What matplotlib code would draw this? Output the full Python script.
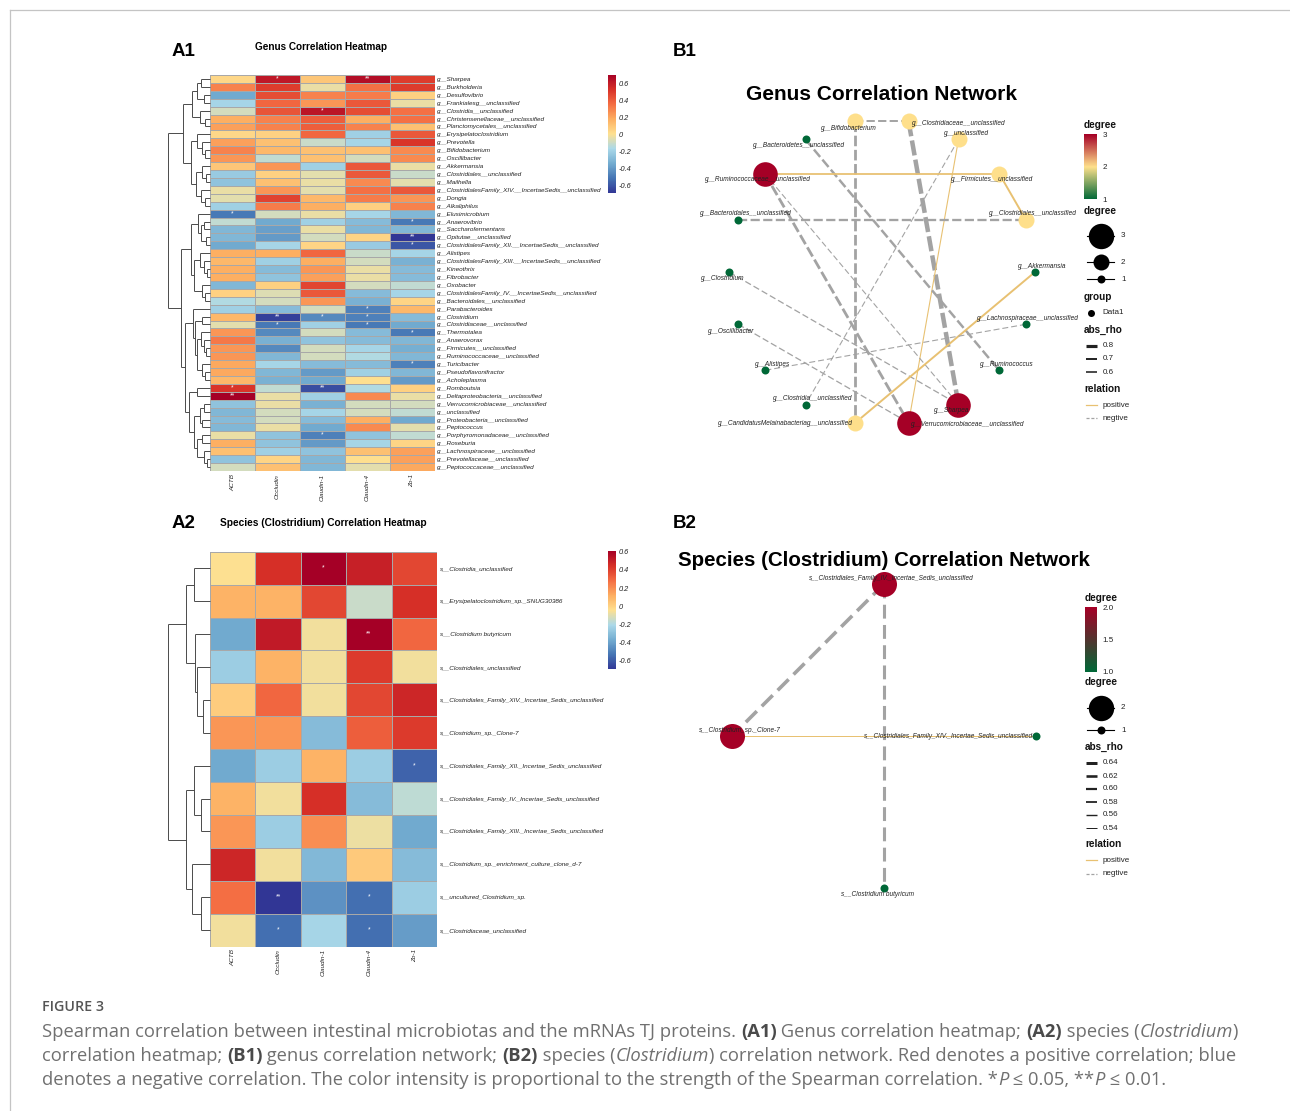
import numpy as np
import matplotlib
matplotlib.use("Agg")
import matplotlib.pyplot as plt
import matplotlib.cm as cm
from matplotlib.colors import LinearSegmentedColormap, Normalize

plt.rcParams['font.family'] = ['Liberation Sans', 'DejaVu Sans']
plt.rcParams['lines.scale_dashes'] = False

# ---------------------------------------------------------------- data
genes = ["ACTB", "Occludin", "Claudin-1", "Claudin-4", "Zo-1"]

genus_rows = [
    "g__Sharpea", "g__Burkholderia", "g__Desulfovibrio", "g__Frankialesg__unclassified",
    "g__Clostridia__unclassified", "g__Christensenellaceae__unclassified",
    "g__Planctomycetales__unclassified", "g__Erysipelatoclostridium", "g__Prevotella",
    "g__Bifidobacterium", "g__Oscillibacter", "g__Akkermansia", "g__Clostridiales__unclassified",
    "g__Mailhella", "g__ClostridialesFamily_XIV.__IncertaeSedis__unclassified", "g__Dongia",
    "g__Alkaliphilus", "g__Elusimicrobium", "g__Anaerovibrio", "g__Saccharofermentans",
    "g__Opitutae__unclassified", "g__ClostridialesFamily_XII.__IncertaeSedis__unclassified",
    "g__Alistipes", "g__ClostridialesFamily_XIII.__IncertaeSedis__unclassified", "g__Kineothrix",
    "g__Fibrobacter", "g__Oxobacter", "g__ClostridialesFamily_IV.__IncertaeSedis__unclassified",
    "g__Bacteroidales__unclassified", "g__Parabacteroides", "g__Clostridium",
    "g__Clostridiaceae__unclassified", "g__Thermotalea", "g__Anaerovorax",
    "g__Firmicutes__unclassified", "g__Ruminococcaceae__unclassified", "g__Turicibacter",
    "g__Pseudoflavonifractor", "g__Acholeplasma", "g__Romboutsia",
    "g__Deltaproteobacteria__unclassified", "g__Verrucomicrobiaceae__unclassified",
    "g__unclassified", "g__Proteobacteria__unclassified", "g__Peptococcus",
    "g__Porphyromonadaceae__unclassified", "g__Roseburia", "g__Lachnospiraceae__unclassified",
    "g__Prevotellaceae__unclassified", "g__Peptococcaceae__unclassified"]

genus_actb = [0.04, 0.30, -0.35, -0.18, -0.08, 0.18, 0.22, 0.04, 0.22, 0.30,
              0.25, 0.10, -0.22, -0.25, -0.03, -0.05, -0.20, -0.50, -0.12, -0.30,
              -0.30, -0.35, 0.18, 0.15, 0.18, 0.18, -0.30, 0.06, -0.15, -0.20,
              0.15, -0.05, 0.25, 0.33, 0.25, 0.25, 0.20, 0.20, 0.15, 0.52,
              0.71, -0.25, -0.30, -0.28, -0.30, -0.03, 0.18, 0.12, -0.25, -0.08]
genus_occludin = [0.62, 0.50, 0.45, 0.38, 0.43, 0.30, 0.30, 0.06, 0.12, 0.15,
                  -0.12, 0.25, 0.07, 0.12, 0.25, 0.48, 0.32, -0.08, -0.35, -0.38,
                  -0.40, -0.18, 0.18, -0.20, -0.28, -0.25, 0.07, -0.06, -0.08, -0.28,
                  -0.66, -0.50, -0.45, -0.32, -0.45, -0.30, -0.18, -0.30, -0.32, -0.12,
                  -0.03, -0.03, -0.08, -0.08, -0.03, -0.25, -0.25, -0.20, 0.05, 0.12]
genus_claudin1 = [0.10, -0.03, 0.30, 0.25, 0.63, 0.40, 0.40, 0.38, -0.10, 0.12,
                  0.12, -0.20, -0.05, -0.03, -0.05, 0.15, 0.18, -0.03, -0.20, -0.03,
                  -0.08, 0.05, 0.38, 0.18, 0.25, 0.22, 0.47, 0.42, 0.25, -0.08,
                  -0.45, -0.20, -0.08, -0.25, -0.08, -0.08, -0.28, -0.40, -0.35, -0.62,
                  -0.20, -0.32, -0.18, -0.28, -0.35, -0.48, -0.40, -0.25, -0.30, -0.30]
genus_claudin4 = [0.66, 0.35, 0.32, 0.42, 0.45, 0.18, 0.30, -0.20, -0.18, 0.12,
                  -0.08, 0.42, 0.42, 0.28, 0.35, 0.32, 0.07, -0.18, -0.28, -0.30,
                  0.05, -0.22, -0.10, -0.08, -0.03, -0.03, -0.08, -0.28, -0.32, -0.48,
                  -0.48, -0.50, -0.28, -0.28, -0.18, -0.15, -0.28, -0.20, 0.01, -0.15,
                  0.28, -0.08, -0.08, 0.18, 0.28, -0.25, -0.18, 0.12, 0.01, -0.05]
genus_zo1 = [0.50, 0.50, 0.07, -0.03, 0.35, 0.35, 0.12, 0.42, 0.52, 0.28,
             0.28, -0.03, -0.10, -0.05, 0.42, 0.25, 0.30, -0.30, -0.50, -0.30,
             -0.69, -0.60, -0.18, -0.32, -0.28, -0.28, -0.12, -0.18, 0.05, 0.15,
             -0.28, -0.35, -0.50, -0.30, -0.33, -0.30, -0.48, -0.30, -0.40, 0.07,
             -0.03, -0.08, -0.12, -0.35, -0.05, -0.12, 0.05, 0.22, 0.22, 0.20]
# (row, gene, mark)
genus_sig = [(0, 1, "*"), (0, 3, "**"), (4, 2, "*"), (17, 0, "*"), (18, 4, "*"),
             (20, 4, "**"), (21, 4, "*"), (29, 3, "*"), (30, 1, "**"), (30, 2, "*"),
             (30, 3, "*"), (31, 1, "*"), (31, 3, "*"), (32, 4, "*"), (36, 4, "*"),
             (39, 0, "*"), (39, 2, "**"), (40, 0, "**"), (45, 2, "*")]
# row dendrogram (height, left, right); leaves = 1-based row numbers
genus_tree = (1.0,
    (0.64,
        (0.43, (0.31, (0.21, 1, 2), (0.14, 3, 4)), (0.24, 5, (0.12, 6, 7))),
        (0.46, (0.30, 8, (0.20, 9, (0.12, 10, 11))),
               (0.33, (0.20, 12, (0.10, 13, 14)), (0.22, 15, (0.12, 16, 17))))),
    (0.70,
        (0.46, (0.28, 18, (0.22, (0.14, 19, 20), (0.10, 21, 22))),
               (0.38, (0.25, 23, (0.15, 24, (0.08, 25, 26))), (0.20, 27, (0.12, 28, 29)))),
        (0.60,
            (0.40, 30, (0.36, (0.20, 31, 32),
                        (0.30, (0.22, 33, (0.15, 34, (0.10, 35, 36))), (0.20, 37, (0.12, 38, 39))))),
            (0.50, (0.30, 40, 41),
                   (0.38, (0.25, (0.15, 42, 43), (0.18, 44, 45)),
                          (0.30, (0.20, 46, 47), (0.15, 48, (0.08, 49, 50))))))))

species_rows = [
    "s__Clostridia_unclassified", "s__Erysipelatoclostridium_sp._SNUG30386",
    "s__Clostridium butyricum", "s__Clostridiales_unclassified",
    "s__Clostridiales_Family_XIV._Incertae_Sedis_unclassified", "s__Clostridium_sp._Clone-7",
    "s__Clostridiales_Family_XII._Incertae_Sedis_unclassified",
    "s__Clostridiales_Family_IV._Incertae_Sedis_unclassified",
    "s__Clostridiales_Family_XIII._Incertae_Sedis_unclassified",
    "s__Clostridium_sp._enrichment_culture_clone_d-7", "s__uncultured_Clostridium_sp.",
    "s__Clostridiaceae_unclassified"]
species_actb = [-0.05, 0.10, -0.38, -0.25, 0.02, 0.18, -0.38, 0.10, 0.18, 0.48, 0.28, -0.07]
species_occludin = [0.45, 0.10, 0.52, 0.10, 0.30, 0.18, -0.25, -0.07, -0.25, -0.07, -0.70, -0.55]
species_claudin1 = [0.61, 0.38, -0.07, -0.07, -0.07, -0.32, 0.10, 0.45, 0.20, -0.33, -0.45, -0.22]
species_claudin4 = [0.50, -0.15, 0.61, 0.42, 0.38, 0.32, -0.25, -0.32, -0.08, 0.03, -0.55, -0.55]
species_zo1 = [0.38, 0.45, 0.30, -0.07, 0.48, 0.42, -0.58, -0.17, -0.38, -0.32, -0.25, -0.42]
species_sig = [(0, 2, "*"), (2, 3, "**"), (6, 4, "*"), (10, 1, "**"), (10, 3, "*"),
               (11, 1, "*"), (11, 3, "*")]
species_tree = (1.0,
    (0.56, (0.376, 1, 2), (0.36, 3, (0.30, 4, (0.16, 5, 6)))),
    (0.56, (0.376, 7, (0.224, 8, 9)), (0.44, 10, (0.224, 11, 12))))

# networks: nodes in circular-layout order, edges (source, target, rho)
genus_nodes = ["g__Akkermansia", "g__Clostridiales__unclassified", "g__Firmicutes__unclassified",
               "g__unclassified", "g__Clostridiaceae__unclassified", "g__Bifidobacterium",
               "g__Bacteroidetes__unclassified", "g__Ruminococcaceae__unclassified",
               "g__Bacteroidales__unclassified", "g__Clostridium", "g__Oscillibacter",
               "g__Alistipes", "g__Clostridia__unclassified",
               "g__CandidatusMelainabacteriag__unclassified",
               "g__Verrucomicrobiaceae__unclassified", "g__Sharpea", "g__Ruminococcus",
               "g__Lachnospiraceae__unclassified"]
genus_edges = [
    ("g__Bifidobacterium", "g__Clostridiaceae__unclassified", -0.65),
    ("g__Bifidobacterium", "g__CandidatusMelainabacteriag__unclassified", -0.70),
    ("g__Clostridiaceae__unclassified", "g__Sharpea", -0.80),
    ("g__unclassified", "g__Verrucomicrobiaceae__unclassified", 0.60),
    ("g__unclassified", "g__Clostridia__unclassified", -0.60),
    ("g__Bacteroidetes__unclassified", "g__Ruminococcus", -0.68),
    ("g__Ruminococcaceae__unclassified", "g__Firmicutes__unclassified", 0.64),
    ("g__Firmicutes__unclassified", "g__Clostridiales__unclassified", 0.65),
    ("g__Bacteroidales__unclassified", "g__Clostridiales__unclassified", -0.67),
    ("g__Ruminococcaceae__unclassified", "g__Verrucomicrobiaceae__unclassified", -0.70),
    ("g__Ruminococcaceae__unclassified", "g__Sharpea", -0.60),
    ("g__Clostridium", "g__Sharpea", -0.61),
    ("g__Oscillibacter", "g__Verrucomicrobiaceae__unclassified", -0.61),
    ("g__Akkermansia", "g__CandidatusMelainabacteriag__unclassified", 0.65),
    ("g__Lachnospiraceae__unclassified", "g__Alistipes", -0.60),
]
species_nodes = ["s__Clostridiales_Family_XIV._Incertae_Sedis_unclassified",
                 "s__Clostridiales_Family_IV._Incertae_Sedis_unclassified",
                 "s__Clostridium_sp._Clone-7", "s__Clostridium butyricum"]
species_edges = [
    ("s__Clostridiales_Family_IV._Incertae_Sedis_unclassified", "s__Clostridium_sp._Clone-7", -0.64),
    ("s__Clostridiales_Family_IV._Incertae_Sedis_unclassified", "s__Clostridium butyricum", -0.62),
    ("s__Clostridium_sp._Clone-7", "s__Clostridiales_Family_XIV._Incertae_Sedis_unclassified", 0.54),
]

# ---------------------------------------------------------------- layout / style
W, H = 1290, 1111
fig = plt.figure(figsize=(W / 100, H / 100), dpi=100)
fig.patch.set_facecolor("white")
PT = 0.72  # points per pixel

def box(x0, y0, x1, y1):
    ax = fig.add_axes([x0 / W, 1 - y1 / H, (x1 - x0) / W, (y1 - y0) / H])
    ax.patch.set_visible(False)
    return ax

over = box(0, 0, W, H)
over.set_xlim(0, W)
over.set_ylim(H, 0)
over.axis("off")

hm_cmap = LinearSegmentedColormap.from_list("hm", ["#313695", "#4575B4", "#74ADD1", "#ABD9E9",
                                                   "#FEE090", "#FDAE61", "#F46D43", "#D73027",
                                                   "#A50026"])
POS = "#E8C172"
NEG = "#A3A3A3"


def draw_tree(ax, node):
    if isinstance(node, int):
        return node - 0.5, 0.0
    h, a, b = node
    ya, ha = draw_tree(ax, a)
    yb, hb = draw_tree(ax, b)
    kw = dict(color="#4a4a4a", lw=0.7, clip_on=False, solid_capstyle="butt")
    ax.plot([h, h], [ya, yb], **kw)
    ax.plot([ha, h], [ya, ya], **kw)
    ax.plot([hb, h], [yb, yb], **kw)
    return (ya + yb) / 2, h


def heatmap(bx, dbx, cbx, cols, rows, sig, tree):
    M = np.array(cols).T
    n, m = M.shape
    norm = Normalize(M.min(), M.max())
    ax = box(*bx)
    ax.pcolormesh(np.arange(m + 1), np.arange(n + 1), M, cmap=hm_cmap, norm=norm,
                  edgecolors="#a8a8a8", linewidth=0.5)
    ax.set_xlim(0, m)
    ax.set_ylim(n, 0)
    ax.yaxis.tick_right()
    ax.set_yticks(np.arange(n) + 0.5, rows, fontsize=4.6, style="italic", color="#222222")
    ax.set_xticks(np.arange(m) + 0.5, genes, rotation=90, fontsize=4.6, style="italic",
                  color="#222222")
    ax.tick_params(length=0, pad=2)
    for s in ax.spines.values():
        s.set_visible(False)
    for r, c, s in sig:
        ax.text(c + 0.5, r + 0.5, s, ha="center", va="center", color="white", fontsize=4.8)
    dax = box(*dbx)
    dax.set_xlim(1.0, 0.0)
    dax.set_ylim(n, 0)
    dax.axis("off")
    draw_tree(dax, tree)
    cax = box(*cbx)
    cb = fig.colorbar(cm.ScalarMappable(norm=norm, cmap=hm_cmap), cax=cax)
    cb.outline.set_visible(False)
    ticks = [-0.6, -0.4, -0.2, 0.0, 0.2, 0.4, 0.6]
    cb.set_ticks(ticks, labels=[f"{t:g}" for t in ticks])
    cax.tick_params(length=0, pad=2, labelsize=5.3)
    for t in cax.get_yticklabels():
        t.set_style("italic")
        t.set_color("#222222")


heatmap((210, 75, 434.5, 471), (168, 75, 210, 471), (608, 74.5, 616, 193),
        [genus_actb, genus_occludin, genus_claudin1, genus_claudin4, genus_zo1],
        genus_rows, genus_sig, genus_tree)
heatmap((210, 551.7, 437, 946.7), (168, 551.7, 210, 946.7), (608, 551, 616, 669.5),
        [species_actb, species_occludin, species_claudin1, species_claudin4, species_zo1],
        species_rows, species_sig, species_tree)


def network(cx, cy, r, nodes, edges, cmap, rad_by_deg, offsets, lw_of, dash_of):
    ax = box(cx - r - 60, cy - r - 30, cx + r + 60, cy + r + 30)
    ax.set_xlim(-(r + 60) / r, (r + 60) / r)
    ax.set_ylim(-(r + 30) / r, (r + 30) / r)
    ax.axis("off")
    n = len(nodes)
    ang = 2 * np.pi * np.arange(n) / n
    pos = {nm: (np.cos(a), np.sin(a)) for nm, a in zip(nodes, ang)}
    deg = {nm: 0 for nm in nodes}
    for s, t, rho in edges:
        deg[s] += 1
        deg[t] += 1
    dmin, dmax = min(deg.values()), max(deg.values())
    dnorm = Normalize(dmin, dmax)
    for s, t, rho in edges:
        (x1, y1), (x2, y2) = pos[s], pos[t]
        lw = lw_of(abs(rho))
        if rho > 0:
            ax.plot([x1, x2], [y1, y2], color=POS, lw=lw * PT, solid_capstyle="butt", zorder=2)
        else:
            on, off = dash_of(lw)
            ax.plot([x1, x2], [y1, y2], color=NEG, lw=lw * PT, dashes=(on * PT, off * PT),
                    dash_capstyle="butt", zorder=2)
    for nm, (dx, dy) in zip(nodes, offsets):
        x, y = pos[nm]
        rad = rad_by_deg[deg[nm]]
        ax.scatter([x], [y], s=(2 * rad * PT) ** 2, color=cmap(dnorm(deg[nm])), linewidths=0,
                   zorder=3)
        ax.annotate(nm, (x, y), xytext=(dx * PT, -dy * PT), textcoords="offset points",
                    ha="center", va="center", fontsize=4.7, style="italic", color="#222222",
                    zorder=4)
    return dnorm


deg_cmap_g = LinearSegmentedColormap.from_list("dg", ["#006837", "#FEE08B", "#A50026"])
deg_cmap_s = LinearSegmentedColormap.from_list("ds", ["#006837", "#A50026"])

genus_offsets = [(7.4, -5.4), (7.3, -5.7), (-6.6, 6), (8, -6.3), (50.7, 2.3), (-6.7, 6.7),
                 (-6.7, 6), (-6.6, 6), (7.3, -5.7), (-6.7, 6.6), (-6.7, 6.7), (7.4, -5.4),
                 (7, -5.6), (-70.4, 0.7), (59, 2.3), (-6.7, 6.4), (7.4, -5.4), (1.7, -5.7)]
species_offsets = [(-87, 0), (7.7, -5), (7.7, -5.6), (-6.7, 6.3)]

lw_g = lambda a: 1.1 + (a - 0.6) / 0.2 * 3.4
lw_s = lambda a: 1.0 + (a - 0.54) / 0.1 * 2.6
dash_g = lambda lw: (3 + 2.7 * lw, 2.5 + 0.4 * lw)
dash_s = lambda lw: (4 + 3.2 * lw, 3.0 + 1.1 * lw)

dn_g = network(882, 272, 153, genus_nodes, genus_edges, deg_cmap_g, {1: 4, 2: 8, 3: 12.3},
               genus_offsets, lw_g, dash_g)
dn_s = network(884, 736, 152, species_nodes, species_edges, deg_cmap_s, {1: 4, 2: 12.5},
               species_offsets, lw_s, dash_s)

# ---------------------------------------------------------------- legends
def ltitle(x, y, s):
    over.text(x, y, s, fontsize=7.2, weight="bold", ha="left", va="center", color="#111111")

def llabel(x, y, s, ha="left"):
    over.text(x, y, s, fontsize=5.8, ha=ha, va="center", color="#222222")

def deg_bar(x0, y0, x1, y1, norm, cmap, ticks, labels):
    cax = box(x0, y0, x1, y1)
    cb = fig.colorbar(cm.ScalarMappable(norm=norm, cmap=cmap), cax=cax)
    cb.outline.set_visible(False)
    cb.set_ticks(ticks, labels=labels)
    cax.tick_params(length=0, pad=4, labelsize=5.8, labelcolor="#222222")

def size_key(y, rad, lab):
    over.plot([1087, 1114], [y, y], color="black", lw=0.8)
    over.scatter([1100.7], [y], s=(2 * rad * PT) ** 2, color="black", linewidths=0, zorder=5)
    llabel(1123.3, y, lab, ha="center")

def rho_key(y, lw, lab):
    over.plot([1086, 1097], [y, y], color="#222222", lw=lw * PT, solid_capstyle="butt")
    llabel(1102.7, y, lab)

def rel_keys(y1, y2):
    over.plot([1086, 1097], [y1, y1], color=POS, lw=0.9)
    over.plot([1086, 1097], [y2, y2], color=NEG, lw=0.9, dashes=(2.2, 1.3))
    llabel(1102.7, y1, "positive")
    llabel(1102.7, y2, "negtive")

# genus network legend
ltitle(1084, 125, "degree")
deg_bar(1084, 134.3, 1097, 199.3, dn_g, deg_cmap_g, [1, 2, 3], ["1", "2", "3"])
ltitle(1084, 210.7, "degree")
size_key(235.7, 12.7, "3")
size_key(262.3, 8, "2")
size_key(279.3, 4, "1")
ltitle(1084, 297.3, "group")
over.scatter([1091], [312.7], s=(7 * PT) ** 2, color="black", linewidths=0)
llabel(1102.7, 312.7, "Data1")
ltitle(1084, 330, "abs_rho")
for yy, a in zip([345.7, 359, 372], [0.8, 0.7, 0.6]):
    rho_key(yy, max(lw_g(a) * 0.7, 1.6), f"{a:g}")
ltitle(1084, 389, "relation")
rel_keys(405.3, 418.3)

# species network legend
ltitle(1085, 597.7, "degree")
deg_bar(1085, 607.3, 1097.3, 671.7, dn_s, deg_cmap_s, [1.0, 1.5, 2.0], ["1.0", "1.5", "2.0"])
ltitle(1085, 682.3, "degree")
size_key(707.7, 12.7, "2")
size_key(730, 4, "1")
ltitle(1085, 747, "abs_rho")
for yy, a in zip([763, 776, 789, 802, 815, 828], [0.64, 0.62, 0.60, 0.58, 0.56, 0.54]):
    rho_key(yy, 1.0 + (a - 0.54) / 0.1 * 2.0, f"{a:.2f}")
ltitle(1085, 844.3, "relation")
rel_keys(860.3, 873.7)

# ---------------------------------------------------------------- titles
for x, y, s in [(172, 51, "A1"), (673, 51, "B1"), (172, 523, "A2"), (673, 523, "B2")]:
    over.text(x, y, s, fontsize=13.5, weight="bold", ha="left", va="center", color="black")
over.text(255, 47, "Genus Correlation Heatmap", fontsize=7.2, weight="bold", ha="left",
          va="center")
over.text(220, 523, "Species (Clostridium) Correlation Heatmap", fontsize=7.3, weight="bold",
          ha="left", va="center")
over.text(882, 95, "Genus Correlation Network", fontsize=15, weight="bold", ha="center",
          va="center")
over.text(884, 560, "Species (Clostridium) Correlation Network", fontsize=14.8, weight="bold",
          ha="center", va="center")

# frame lines
over.plot([10, W], [10.3, 10.3], color="#c4c4c4", lw=0.9)
over.plot([10, 10], [10.3, H], color="#c4c4c4", lw=0.9)

# ---------------------------------------------------------------- caption
renderer = fig.canvas.get_renderer()
CAP = ["Open Sans", "DejaVu Sans"]
CFS = 13.25

def seg_kw(st):
    kw = dict(fontsize=CFS, family=CAP, color="#707070")
    if st == "b":
        kw.update(weight="bold", color="#4a4a4a")
    if st == "i":
        kw.update(style="italic")
    return kw

def width(s, kw):
    a = over.text(0, 0, "|" + s + "|", **kw)
    b = over.text(0, 0, "||", **kw)
    w = a.get_window_extent(renderer).width - b.get_window_extent(renderer).width
    a.remove()
    b.remove()
    return w

def rich(x, y, segs):
    for s, st in segs:
        kw = seg_kw(st)
        over.text(x, y, s, ha="left", va="baseline", **kw)
        x += width(s, kw)

over.text(42, 1011, "FIGURE 3", fontsize=10.3, family=CAP, weight="semibold", color="#555555",
          ha="left", va="baseline")
rich(42, 1037, [("Spearman correlation between intestinal microbiotas and the mRNAs TJ proteins. ", "n"),
                ("(A1)", "b"), (" Genus correlation heatmap; ", "n"), ("(A2)", "b"),
                (" species (", "n"), ("Clostridium", "i"), (")", "n")])
rich(42, 1061, [("correlation heatmap; ", "n"), ("(B1)", "b"), (" genus correlation network; ", "n"),
                ("(B2)", "b"), (" species (", "n"), ("Clostridium", "i"),
                (") correlation network. Red denotes a positive correlation; blue", "n")])
rich(42, 1085, [("denotes a negative correlation. The color intensity is proportional to the strength of the Spearman correlation. *", "n"),
                ("P", "i"), (" \u2264 0.05, **", "n"), ("P", "i"), (" \u2264 0.01.", "n")])

fig.savefig("out.png", dpi=100, facecolor="white")
